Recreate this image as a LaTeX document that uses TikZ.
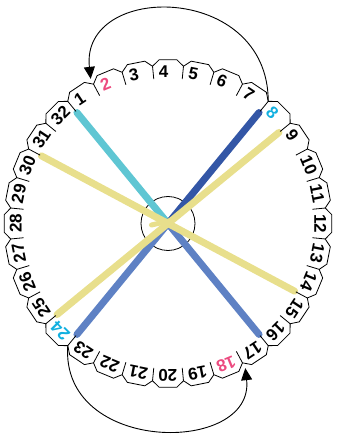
\documentclass[tikz,border=0pt]{standalone}
\usepackage{fontspec}
\setmainfont{Liberation Sans}
\usetikzlibrary{arrows.meta,calc}
\definecolor{cyanline}{HTML}{5FC6D3}
\definecolor{darkblue}{HTML}{3356A6}
\definecolor{midblue}{HTML}{5E81C4}
\definecolor{yel}{HTML}{E8DF8C}
\definecolor{pinklabel}{HTML}{EC4B80}
\definecolor{cyanlabel}{HTML}{12B0E0}
\tikzset{
  ring/.style={draw=black, line width=0.8pt, line join=miter},
  lbl/.style={font=\fontsize{17}{17}\selectfont\bfseries, inner sep=0pt, anchor=west},
  chord/.style={line width=7pt, line cap=round},
  hubstyle/.style={circle, draw=black, line width=0.8pt, minimum size=54pt, inner sep=0pt},
  arrowarc/.style={draw=black, line width=0.9pt, -{Triangle[length=12pt,width=11pt]}}
}
\begin{document}
\begin{tikzpicture}[x=1pt,y=1pt]
\useasboundingbox (-168,-210.5) rectangle (172,223.5);
% boundary coordinates (boundary after tile k, i.e. between k and k+1)
\foreach \k [evaluate=\k as \b using 90-(\k-4)*11.25-5.625] in {1,...,32} {
  \coordinate (e\k) at (\b:143.5);
  \coordinate (d\k) at (\b:145);
  \coordinate (t\k) at (\b:158);
  \coordinate (o\k) at (\b:164);
}
% hub
\node[hubstyle] (hub) at (0,0) {};
% chords
\draw[chord, cyanline] (e32) -- (hub.center);
\draw[chord, midblue] (hub.center) -- (e16);
\draw[chord, darkblue] (e7) -- (hub.center);
\draw[chord, midblue] (hub.center) -- (e23);
\draw[chord, yel] (e8) -- (e24);
\draw[chord, yel] (e30) -- (e14);
\coordinate (ya) at (-16.5,-1.5);
\coordinate (yb) at (5,3.5);
\draw[line width=5pt, line cap=round, yel] (ya) -- (yb);
% ring outline
\draw[ring] (129.375:158)
  \foreach \k [evaluate=\k as \a using 90-(\k-4)*11.25] in {1,...,32} {
    -- ({\a+3.1}:164) -- ({\a-3.1}:164) -- ({\a-5.625}:158)
  } -- cycle;
% dividers
\foreach \k in {1,...,32} \draw[ring] (t\k) -- (d\k);
% labels
\foreach \k/\c in {1/black,2/pinklabel,3/black,4/black,5/black,6/black,7/black,8/cyanlabel,
  9/black,10/black,11/black,12/black,13/black,14/black,15/black,16/black,
  17/black,18/pinklabel,19/black,20/black,21/black,22/black,23/black,24/cyanlabel,
  25/black,26/black,27/black,28/black,29/black,30/black,31/black,32/black} {
  \pgfmathsetmacro{\a}{90-(\k-4)*11.25}
  \node[lbl, text=\c, rotate=\a-90] (lab\k) at ({\a+3.55}:152.5) {\k};
}
% arrows
\draw[arrowarc] (t7) .. controls +(0,119.4) and +(-10.7,96.9) .. (o1);
\draw[arrowarc] (t23) .. controls +(-7.8,-109.4) and +(9.7,-86.9) .. (o17);
\end{tikzpicture}
\end{document}
